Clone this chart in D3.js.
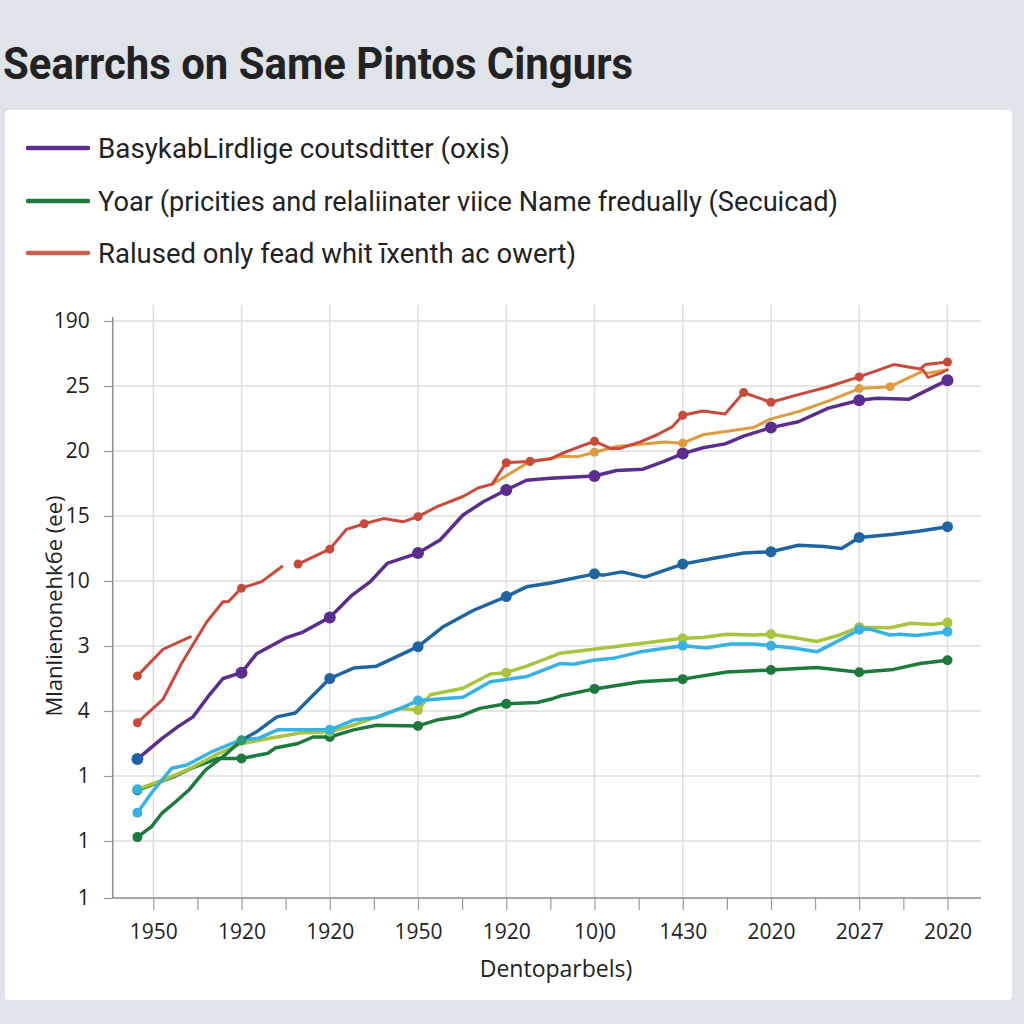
<!DOCTYPE html>
<html>
<head>
<meta charset="utf-8">
<script src="https://cdn.jsdelivr.net/npm/d3@7"></script>
<style>
  html, body { margin: 0; padding: 0; background: #dfe3ea; }
  svg { display: block; }
</style>
</head>
<body>
<svg id="chart" width="1024" height="1024"></svg>
<script>
// ---------------- data ----------------
const titleText = "Searrchs on Same Pintos Cingurs";
const legendLabels = [
  "BasykabLirdlige coutsditter (oxis)",
  "Yoar (pricities and relaliinater viice Name fredually (Secuicad)",
  "Ralused only fead whit \u012bxenth ac owert)"
];
const xTickValues = [0, 10, 20, 30, 40, 50, 60, 70, 80, 90];
const xTickLabels = ["1950", "1920", "1920", "1950", "1920", "10)0", "1430", "2020", "2027", "2020"];
const xMinorTicks = [5, 15, 25, 35, 45, 55, 65, 75, 85];
const yTickValues = [-8.77, 0, 10, 20, 30, 40, 50, 60, 70, 80];
const yTickLabels = ["1", "1", "1", "4", "3", "10", "15", "20", "25", "190"];
const xAxisTitle = "Dentoparbels)";
const yAxisTitle = "Mlanlienonehk\u0431e (ee)";

const purpleValues = [[-1.8,12.6],[1.0,15.8],[2.8,17.6],[4.5,19.1],[6.2,22.2],[7.9,25.0],[10,25.9],[11.7,28.8],[13.6,30.2],[15.1,31.3],[16.8,32.05],[20,34.4],[22.5,37.8],[24.6,39.9],[26.5,42.7],[30,44.3],[32.5,46.3],[35.1,50.15],[37.4,52.2],[40,54.0],[42.3,55.5],[45.0,55.8],[50,56.15],[52.5,57.0],[55.5,57.2],[57.8,58.35],[60,59.6],[62.3,60.5],[64.8,61.1],[66.9,62.3],[70,63.6],[73.1,64.5],[76.5,66.6],[80,67.8],[82.0,68.1],[85.6,67.95],[90,70.9]];
const blueValues = [[10,15.5],[11.7,16.8],[14.0,19.1],[16.1,19.7],[20,25.0],[22.7,26.6],[25.3,26.9],[30,29.9],[32.9,33.0],[36.3,35.5],[40,37.6],[42.3,39.1],[45.0,39.7],[50,41.1],[51.0,40.9],[53.1,41.4],[55.7,40.6],[60,42.6],[63.5,43.5],[66.9,44.3],[70,44.5],[73.1,45.5],[76.0,45.3],[78.0,45.0],[80,46.7],[83.9,47.2],[86.9,47.7],[90,48.35]];
const greenValues = [[-1.8,7.8],[0.5,9.0],[2.5,10.0],[4.35,11.2],[7.3,12.7],[10,12.7],[13.0,13.5],[13.8,14.3],[16.4,15.0],[18.1,16.0],[20,16.0],[22.7,17.1],[25.3,17.8],[30,17.7],[32.1,18.6],[34.8,19.2],[37.0,20.4],[40,21.1],[43.5,21.3],[45.0,21.8],[46.1,22.3],[50,23.4],[55.2,24.5],[60,24.9],[65.0,26.0],[70,26.3],[75.2,26.7],[80,25.95],[83.9,26.4],[86.9,27.3],[90,27.8]];
const greenRiseValues = [[-1.8,0.6],[-0.2,2.2],[1.0,4.3],[2.5,6.0],[4.0,7.8],[5.9,10.9],[8.1,13.2],[10,15.5]];
const limeValues = [[-1.8,7.95],[1.5,9.6],[3.8,10.9],[7.0,13.2],[9.8,14.9],[13.2,15.8],[16.6,16.6],[20,16.8],[22.6,17.8],[25.3,19.1],[28.0,20.4],[30,20.15],[31.4,22.5],[35.1,23.5],[38.2,25.7],[40,25.9],[42.3,26.9],[45.0,28.3],[46.1,28.9],[49.9,29.5],[55.2,30.4],[60,31.2],[62.3,31.3],[65.0,31.8],[68.0,31.7],[70,31.8],[72.5,31.3],[75.2,30.7],[77.8,31.7],[80,32.9],[83.5,32.8],[85.8,33.5],[88.4,33.3],[90,33.6]];
const cyanValues = [[-1.8,4.35],[-0.2,7.4],[2.1,11.2],[3.8,11.7],[6.6,13.7],[9.8,15.5],[11.9,15.8],[14.1,17.1],[17.0,17.1],[20,17.1],[22.7,18.6],[25.3,19.0],[28.0,20.4],[30,21.6],[35.1,22.1],[38.2,24.5],[42.3,25.3],[45.0,26.7],[46.1,27.3],[47.6,27.2],[49.9,27.8],[52.1,28.1],[55.2,29.1],[60,30.05],[62.7,29.7],[65.4,30.3],[68.0,30.3],[70,30.05],[72.5,29.7],[75.2,29.1],[77.8,30.9],[80,32.5],[81.2,32.6],[83.5,31.7],[84.6,31.8],[86.5,31.6],[90,32.2]];
const redValues = [[-1.8,18.2],[1.1,21.8],[3.2,27.3],[6.05,33.7],[7.9,36.8],[8.5,36.8],[10,38.9],[12.3,39.9],[14.55,42.2],null,[16.4,42.6],[20,44.9],[21.9,47.95],[23.9,48.8],[26.1,49.6],[28.3,49.1],[30,49.9],[32.1,51.4],[35.1,53.0],[36.8,54.3],[38.4,54.9],[40,58.2],[42.7,58.4],[45.0,58.8],[46.1,59.5],[47.8,60.4],[50,61.5],[51.8,60.4],[52.9,60.4],[55.2,61.4],[57.1,62.5],[58.8,63.7],[60,65.5],[62.3,66.15],[64.8,65.7],[66.9,69.0],[70,67.5],[72.9,68.6],[76.3,69.8],[80,71.4],[83.9,73.3],[86.9,72.6],[87.5,73.3],[90,73.7]];
const redMarkerX = [-1.8, 10, 16.4, 20, 23.9, 30, 40, 42.7, 50, 60, 66.9, 70, 80, 90];
const redShortValues = [[-1.8,25.4],[1.1,29.5],[4.2,31.4]];
const redTailValues = [[87.2,72.5],[87.8,71.3],[89.2,71.95],[90,72.5]];
const orangeValues = [[38.4,54.9],[42.7,58.4],[45.0,58.8],[46.1,59.2],[48.0,59.1],[50,59.8],[52.5,60.7],[58.0,61.4],[60,61.2],[62.3,62.5],[68.0,63.6],[69.9,64.9],[73.1,66.05],[76.7,67.8],[80,69.6],[83.5,69.9],[87.2,72.3],[87.8,71.95],[90,72.5]];
const orangeMarkerX = [42.7, 50, 60, 80, 83.5];

// ---------------- layout ----------------
const svg = d3.select("#chart");
const plotLeft = 112.7, plotRight = 981, plotTop = 321, plotBottom = 898;
const x = d3.scaleLinear().domain([-4.6, 93.8]).range([plotLeft, plotRight]);
const y = d3.scaleLinear().domain([-8.77, 80]).range([plotBottom, plotTop]);

// title
svg.append("text")
  .attr("x", 3).attr("y", 79)
  .attr("font-family", "Roboto, 'Noto Sans', sans-serif")
  .attr("font-weight", 700).attr("font-size", 45)
  .attr("fill", "#222")
  .attr("textLength", 630).attr("lengthAdjust", "spacingAndGlyphs")
  .text(titleText);

// panel
svg.append("rect")
  .attr("x", 5).attr("y", 110).attr("width", 1007).attr("height", 890)
  .attr("rx", 4).attr("fill", "#ffffff");

// legend
const legendColors = ["#5b2d8e", "#1b7a3c", "#c8604f"];
const legendY = [148, 201, 253];
const legendWidths = [412, 740, 478];
legendLabels.forEach((lab, i) => {
  svg.append("line")
    .attr("x1", 28).attr("x2", 88).attr("y1", legendY[i]).attr("y2", legendY[i])
    .attr("stroke", legendColors[i]).attr("stroke-width", 4.5).attr("stroke-linecap", "round");
  svg.append("text")
    .attr("x", 98).attr("y", legendY[i] + 10)
    .attr("font-family", "Roboto, 'Noto Sans', sans-serif")
    .attr("font-size", 27).attr("fill", "#222")
    .attr("textLength", legendWidths[i]).attr("lengthAdjust", "spacingAndGlyphs")
    .text(lab);
});

// grid
const g = svg.append("g");
g.selectAll(".hg").data(yTickValues.filter(v => v >= 0)).enter().append("line")
  .attr("x1", plotLeft).attr("x2", plotRight)
  .attr("y1", d => y(d)).attr("y2", d => y(d))
  .attr("stroke", "#dedede").attr("stroke-width", 1.5);
g.selectAll(".vg").data(xTickValues).enter().append("line")
  .attr("x1", d => x(d)).attr("x2", d => x(d))
  .attr("y1", 305).attr("y2", plotBottom)
  .attr("stroke", "#dedede").attr("stroke-width", 1.5);

// axes
const yAxis = d3.axisLeft(y).tickValues(yTickValues)
  .tickFormat((d, i) => yTickLabels[i]).tickSize(9).tickPadding(14);
const yg = svg.append("g").attr("transform", `translate(${plotLeft},0)`).call(yAxis);
yg.select(".domain").attr("stroke", "#8a8a8a").attr("stroke-width", 1.5)
  .attr("d", `M0,${plotTop - 4}V${plotBottom}`);
yg.selectAll(".tick line").attr("stroke", "#9a9a9a").attr("stroke-width", 1.2);
yg.selectAll(".tick text").attr("font-family", "'Open Sans', 'Noto Sans', sans-serif")
  .attr("font-size", 21).attr("fill", "#222");

const xAxis = d3.axisBottom(x).tickValues(xTickValues.concat(xMinorTicks))
  .tickFormat(d => { const i = xTickValues.indexOf(d); return i >= 0 ? xTickLabels[i] : ""; })
  .tickSize(12).tickPadding(14);
const xg = svg.append("g").attr("transform", `translate(0,${plotBottom})`).call(xAxis);
xg.select(".domain").attr("stroke", "#8a8a8a").attr("stroke-width", 1.5)
  .attr("d", `M${plotLeft},0H${plotRight}`);
xg.selectAll(".tick line").attr("stroke", "#9a9a9a").attr("stroke-width", 1.2);
xg.selectAll(".tick text").attr("font-family", "'Open Sans', 'Noto Sans', sans-serif")
  .attr("font-size", 21).attr("fill", "#222");

// axis titles
svg.append("text")
  .attr("transform", "translate(62,606) rotate(-90)")
  .attr("text-anchor", "middle")
  .attr("font-family", "'Open Sans', 'Noto Sans', sans-serif")
  .attr("font-size", 22).attr("fill", "#222")
  .text(yAxisTitle);
svg.append("text")
  .attr("x", 556).attr("y", 977)
  .attr("text-anchor", "middle")
  .attr("font-family", "'Open Sans', 'Noto Sans', sans-serif")
  .attr("font-size", 23).attr("fill", "#222")
  .text(xAxisTitle);

// series
const series = [
  { data: greenValues, color: "#1b7a3c", w: 3.5, r: 5 },
  { data: limeValues, color: "#a9c43f", w: 3.5, r: 5, firstDot: "#36b3e2" },
  { data: cyanValues, color: "#36b3e2", w: 3.5, r: 5 },
  { data: blueValues, color: "#1f65a2", w: 3.5, r: 5.5, skipFirst: true },
  { data: greenRiseValues, color: "#1b7a3c", w: 3.5, r: 5, lastDot: "#2a9a72" },
  { data: purpleValues, color: "#5b2d8e", w: 3.5, r: 6, firstDot: "#1f5fa8" },
  { data: orangeValues, color: "#df9b40", w: 3, r: 4.5, markerX: orangeMarkerX },
  { data: redValues, color: "#c9493b", w: 3, r: 4.5, markerX: redMarkerX },
  { data: redShortValues, color: "#c9493b", w: 3, r: 4.5 },
  { data: redTailValues, color: "#c9493b", w: 2.5, r: 0, skipFirst: true }
];
const line = d3.line().defined(d => d !== null).x(d => x(d[0])).y(d => y(d[1]));

series.forEach(s => {
  svg.append("path").datum(s.data)
    .attr("fill", "none").attr("stroke", s.color).attr("stroke-width", s.w)
    .attr("stroke-linejoin", "round").attr("stroke-linecap", "round")
    .attr("d", line);
  const pts = s.data.filter(d => d !== null);
  let marks;
  if (s.markerX) {
    marks = pts.filter(d => s.markerX.includes(d[0]));
  } else {
    marks = pts.filter((d, i) => (i === 0 && !s.skipFirst) || (Math.abs(d[0] % 10) < 0.001 && !(i === 0 && s.skipFirst)));
  }
  if (s.r > 0) {
    svg.selectAll(null).data(marks).enter().append("circle")
      .attr("cx", d => x(d[0])).attr("cy", d => y(d[1])).attr("r", s.r)
      .attr("fill", d => {
        if (d === pts[0] && s.firstDot) return s.firstDot;
        if (d === pts[pts.length - 1] && s.lastDot) return s.lastDot;
        return s.color;
      });
  }
});
</script>
</body>
</html>
